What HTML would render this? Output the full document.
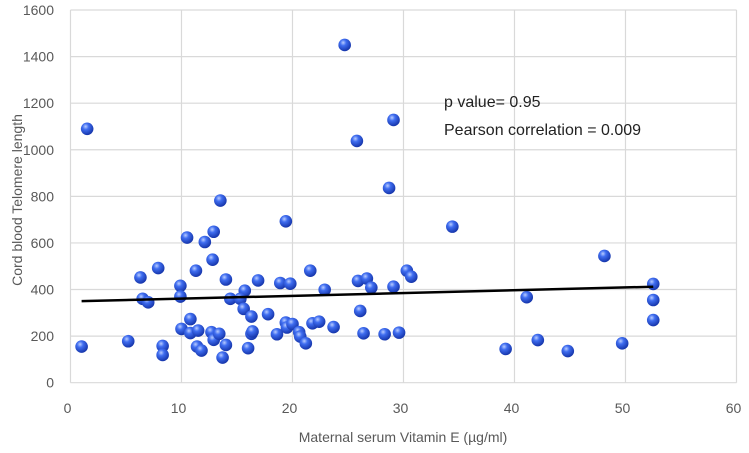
<!DOCTYPE html>
<html><head><meta charset="utf-8"><style>
html,body{margin:0;padding:0;background:#fff}
svg text{font-family:"Liberation Sans",sans-serif}
</style></head><body>
<svg id="chart" width="749" height="448" xmlns="http://www.w3.org/2000/svg">
<defs>
<radialGradient id="ball" cx="0.38" cy="0.32" r="0.7">
<stop offset="0" stop-color="#b9ccff"/><stop offset="0.35" stop-color="#3f6df0"/><stop offset="1" stop-color="#1433a8"/>
</radialGradient>
</defs>
<g id="grid"></g><g id="ticks"></g><g id="marks"></g>
<text x="403" y="442" font-size="14" fill="#595959" text-anchor="middle">Maternal serum Vitamin E (µg/ml)</text>
<text transform="translate(22,200) rotate(-90)" font-size="14" fill="#595959" text-anchor="middle">Cord blood  Telomere length</text>
<text x="444" y="107" font-size="16" fill="#222">p value= 0.95</text>
<text x="444" y="135" font-size="16" fill="#222">Pearson correlation = 0.009</text>
</svg>
<script>
const xTicks=[0,10,20,30,40,50,60];
const yTicks=[0,200,400,600,800,1000,1200,1400,1600];
const xVals=[1.0,5.2,6.3,7.9,6.5,7.0,8.3,8.3,9.9,9.9,10.5,12.9,12.1,12.8,11.3,13.5,19.4,21.6,14.0,15.7,16.9,18.9,19.8,22.9,14.4,15.3,15.6,16.3,17.8,10.8,10.0,10.8,11.5,11.4,11.8,12.7,12.9,13.4,14.0,13.7,16.0,16.3,16.4,18.6,19.4,19.5,20.0,20.6,20.7,21.2,21.8,22.4,23.7,1.5,24.7,29.1,25.8,28.7,34.4,25.9,26.7,27.1,29.1,30.3,30.7,26.1,26.4,28.3,29.6,48.1,52.5,52.5,52.5,41.1,39.2,42.1,44.8,49.7];
const yVals=[155,178,452,492,360,345,158,119,416,370,623,648,604,528,481,782,693,481,443,395,439,428,425,399,360,360,317,284,294,273,231,213,224,155,138,217,184,210,162,108,148,210,220,208,258,237,252,217,198,169,255,262,239,1090,1450,1128,1038,836,670,437,447,408,412,481,455,308,212,208,215,544,424,355,269,367,145,183,136,169];
const trendX=[1,52.5];
const trendY=[350,412];
const L=70.5,R=736.5,T=10,B=382.7;
const xs=v=>L+(v-0)/60*(R-L);
const ys=v=>B-(v/1600)*(B-T);
const NS="http://www.w3.org/2000/svg";
function mk(tag,attrs,parent){const e=document.createElementNS(NS,tag);for(const k in attrs)e.setAttribute(k,attrs[k]);parent.appendChild(e);return e;}
const grid=document.getElementById('grid'),ticks=document.getElementById('ticks'),marks=document.getElementById('marks');
xTicks.forEach(t=>{
 const l=mk('line',{x1:xs(t),x2:xs(t),y1:T,y2:B,stroke:'#d9d9d9','stroke-width':1.2},grid);
 
 
 const tx=mk('text',{x:xs(t)-3,y:413,'font-size':14,fill:'#595959','text-anchor':'middle'},ticks);tx.textContent=t;
 
 
});
yTicks.forEach(t=>{
 const l=mk('line',{x1:L,x2:R,y1:ys(t),y2:ys(t),stroke:'#d9d9d9','stroke-width':1.2},grid);
 
 
 const tx=mk('text',{x:54,y:ys(t)+5,'font-size':14,fill:'#595959','text-anchor':'end'},ticks);tx.textContent=t;
 
 
});
xVals.forEach((x,i)=>{
 const c=mk('circle',{cx:xs(x),cy:ys(yVals[i]),r:6.3,fill:'url(#ball)'},marks);
 
 
});
const tl=mk('line',{x1:xs(trendX[0]),y1:ys(trendY[0]),x2:xs(trendX[1]),y2:ys(trendY[1]),stroke:'#000','stroke-width':2.5},marks);


</script>
</body></html>
